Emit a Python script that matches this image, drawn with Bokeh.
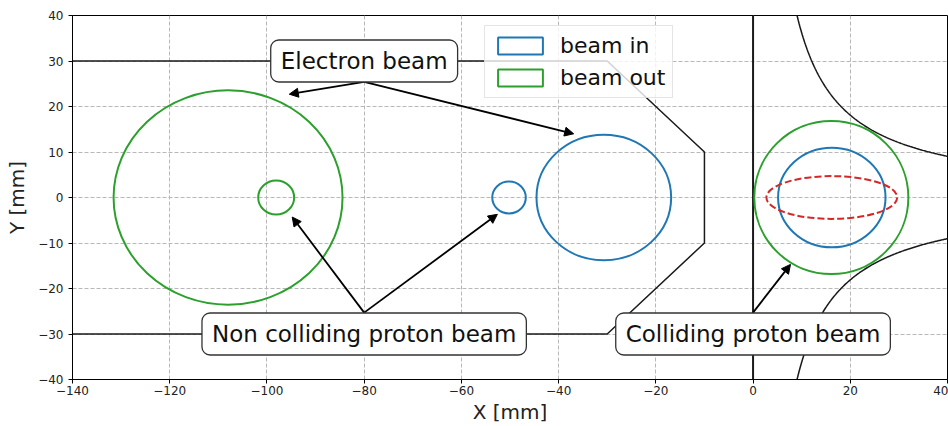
from bokeh.plotting import figure
from bokeh.models import (Range1d, FixedTicker, Label, Arrow, NormalHead, Legend,
                          LegendItem, ColumnDataSource)
from bokeh.embed import file_html
from bokeh.resources import INLINE
import numpy as np

# ---------------- data ----------------
x_ticks = [-140, -120, -100, -80, -60, -40, -20, 0, 20, 40]
y_ticks = [-40, -30, -20, -10, 0, 10, 20, 30, 40]

# beam in (blue) apertures: centre, full width, full height [mm]
beam_in_x = [-50.2, -30.7, 16.2]
beam_in_y = [0.0, 0.0, 0.0]
beam_in_w = [6.9, 27.7, 22.1]
beam_in_h = [7.0, 27.6, 21.9]

# beam out (green) apertures
beam_out_x = [-108.0, -98.1, 16.1]
beam_out_y = [0.0, 0.0, 0.0]
beam_out_w = [47.1, 7.4, 31.7]
beam_out_h = [47.1, 7.5, 33.7]

# colliding proton beam envelope (red dashed)
proton_x = [16.2]
proton_y = [0.0]
proton_w = [26.9]
proton_h = [9.4]

# electron beam chamber wall
wall_x = [-140, -30, -10, -10, -30, -140]
wall_y = [30, 30, 10, -10, -30, -30]

# vertical line at x = 0
ip_x = [0, 0]
ip_y = [-40, 40]

# quadrupole pole hyperbolae  x*y = +/- pole_k
pole_k = 362.0
pole_x_min = 8.5
pole_x_max = 41.0

# annotations
label_text = ["Electron beam", "Non colliding proton beam", "Colliding proton beam"]
label_x = [-80, -80, 0]
label_y = [30, -30, -30]

arrow_x0 = [-80, -80, -80, -80, 0]
arrow_y0 = [25.4, 25.4, -25.3, -25.3, -25.3]
arrow_x1 = [-95.4, -36.9, -94.8, -52.6, 7.7]
arrow_y1 = [22.7, 14.0, -4.3, -3.7, -14.7]

legend_labels = ["beam in", "beam out"]

BLUE = "#1f77b4"
GREEN = "#2ca02c"
RED = "#d62728"
FONT = "DejaVu Sans"

# ---------------- figure ----------------
p = figure(width=948, height=426, x_range=Range1d(-140, 40), y_range=Range1d(-40, 40),
           output_backend="svg", toolbar_location=None,
           min_border_left=72, min_border_right=1, min_border_top=15, min_border_bottom=47)

p.outline_line_color = "black"
p.outline_line_width = 1
p.outline_line_alpha = 1

for g in (p.xgrid, p.ygrid):
    g.grid_line_color = "#b8b8b8"
    g.grid_line_dash = "4 2"
    g.grid_line_width = 1

p.xaxis.ticker = FixedTicker(ticks=x_ticks)
p.yaxis.ticker = FixedTicker(ticks=y_ticks)
p.xaxis.major_label_overrides = {t: str(t).replace("-", "\u2212") for t in x_ticks}
p.yaxis.major_label_overrides = {t: str(t).replace("-", "\u2212") for t in y_ticks}
p.xaxis.axis_label = "X [mm]"
p.yaxis.axis_label = "Y [mm]"
for ax in (p.xaxis, p.yaxis):
    ax.axis_line_color = "black"
    ax.major_tick_line_color = "black"
    ax.major_tick_in = 0
    ax.major_tick_out = 4
    ax.minor_tick_line_color = None
    ax.major_label_text_font = FONT
    ax.major_label_text_font_size = "12px"
    ax.major_label_text_color = "#222222"
    ax.axis_label_text_font = FONT
    ax.axis_label_text_font_size = "20px"
    ax.axis_label_text_font_style = "normal"
    ax.axis_label_text_color = "#222222"
p.xaxis.major_label_standoff = 2
p.xaxis.axis_label_standoff = 2
p.yaxis.major_label_standoff = 5
p.yaxis.axis_label_standoff = 6

# ---------------- glyphs ----------------
p.line(wall_x, wall_y, line_color="#1a1a1a", line_width=1.5)
p.line(ip_x, ip_y, line_color="#1a1a1a", line_width=2)

hx = np.linspace(pole_x_min, pole_x_max, 200)
p.line(hx, pole_k / hx, line_color="#1a1a1a", line_width=1.5)
p.line(hx, -pole_k / hx, line_color="#1a1a1a", line_width=1.5)

p.ellipse(x=beam_in_x, y=beam_in_y, width=beam_in_w, height=beam_in_h,
          fill_alpha=0, line_color=BLUE, line_width=2)
p.ellipse(x=beam_out_x, y=beam_out_y, width=beam_out_w, height=beam_out_h,
          fill_alpha=0, line_color=GREEN, line_width=2)
p.ellipse(x=proton_x, y=proton_y, width=proton_w, height=proton_h,
          fill_alpha=0, line_color=RED, line_width=2, line_dash="7 3")

# legend proxies (rectangle patches, hidden on the plot itself)
r_in = p.rect(x=beam_in_x, y=beam_in_y, width=beam_in_w, height=beam_in_h,
              fill_alpha=0, line_color=BLUE, line_width=2, visible=False)
r_out = p.rect(x=beam_out_x, y=beam_out_y, width=beam_out_w, height=beam_out_h,
               fill_alpha=0, line_color=GREEN, line_width=2, visible=False)

# ---------------- annotations ----------------
asrc = ColumnDataSource(dict(x0=arrow_x0, y0=arrow_y0, x1=arrow_x1, y1=arrow_y1))
p.add_layout(Arrow(x_start="x0", y_start="y0", x_end="x1", y_end="y1", source=asrc,
                   line_color="black", line_width=1.8,
                   end=NormalHead(size=9, fill_color="black", line_color="black", line_width=1)))

for t, lx, ly in zip(label_text, label_x, label_y):
    p.add_layout(Label(x=lx, y=ly, text=t, text_align="center", text_baseline="middle",
                       text_font=FONT, text_font_size="23px", text_color="#111111",
                       background_fill_color="white", background_fill_alpha=1,
                       border_line_color="#333333", border_line_width=1.3,
                       padding=(10, 8), border_radius=8))

legend = Legend(items=[LegendItem(label=legend_labels[0], renderers=[r_in], index=0),
                       LegendItem(label=legend_labels[1], renderers=[r_out], index=0)],
                location=(412, 281))
legend.background_fill_color = "white"
legend.background_fill_alpha = 0.8
legend.border_line_color = "#cccccc"
legend.border_line_width = 1
legend.label_text_font = FONT
legend.label_text_font_size = "22px"
legend.label_text_color = "#111111"
legend.glyph_width = 56
legend.glyph_height = 21
legend.label_standoff = 12
legend.padding = 7
legend.spacing = 7
legend.margin = 0
p.add_layout(legend)

open("out.html", "w").write(file_html(p, INLINE))
